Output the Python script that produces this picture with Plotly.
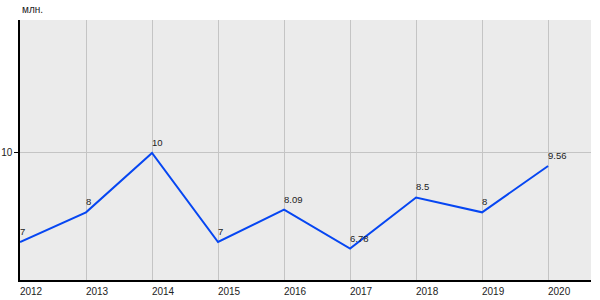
import plotly.graph_objects as go

years = [2012, 2013, 2014, 2015, 2016, 2017, 2018, 2019, 2020]
values = [7, 8, 10, 7, 8.09, 6.78, 8.5, 8, 9.56]
labels = ["7", "8", "10", "7", "8.09", "6.78", "8.5", "8", "9.56"]
y_ticks = [10]
unit = "млн."

fig = go.Figure()
fig.add_trace(go.Scatter(
    x=years, y=values, mode="lines",
    line=dict(color="#0646f2", width=2),
    hoverinfo="skip",
))
for xv, yv, t in zip(years, values, labels):
    fig.add_annotation(
        x=xv, y=yv, text=t, showarrow=False, xanchor="left", yanchor="bottom",
        xshift=-1, yshift=4, borderpad=0,
        font=dict(family="Liberation Sans, Arial", size=9.5, color="#222"),
    )

fig.update_layout(
    width=600, height=300,
    margin=dict(l=20, r=9, t=20, b=20),
    paper_bgcolor="white", plot_bgcolor="#ebebeb",
    showlegend=False,
    font=dict(family="Liberation Sans, Arial", size=10, color="#222"),
)
fig.update_xaxes(
    range=[2012, 2020.65], tickvals=years, ticktext=[str(y) for y in years],
    showgrid=True, gridcolor="#c4c4c4", gridwidth=1,
    showline=True, linecolor="black", linewidth=1.5,
    ticks="", ticklabelshift=11, ticklabelstandoff=1, zeroline=False,
    automargin=False,
)
fig.update_yaxes(
    range=[5.72, 14.48], tickvals=y_ticks, ticktext=[str(v) for v in y_ticks],
    showgrid=True, gridcolor="#c4c4c4", gridwidth=1,
    showline=True, linecolor="black", linewidth=1.5,
    ticks="outside", ticklen=4, tickcolor="black", zeroline=False,
    automargin=False,
)
fig.add_annotation(
    text=unit, xref="paper", yref="paper", x=0, y=1, xanchor="left", yanchor="bottom",
    yshift=3, showarrow=False, font=dict(size=10, color="#222"),
)
fig.write_html("out.html")
